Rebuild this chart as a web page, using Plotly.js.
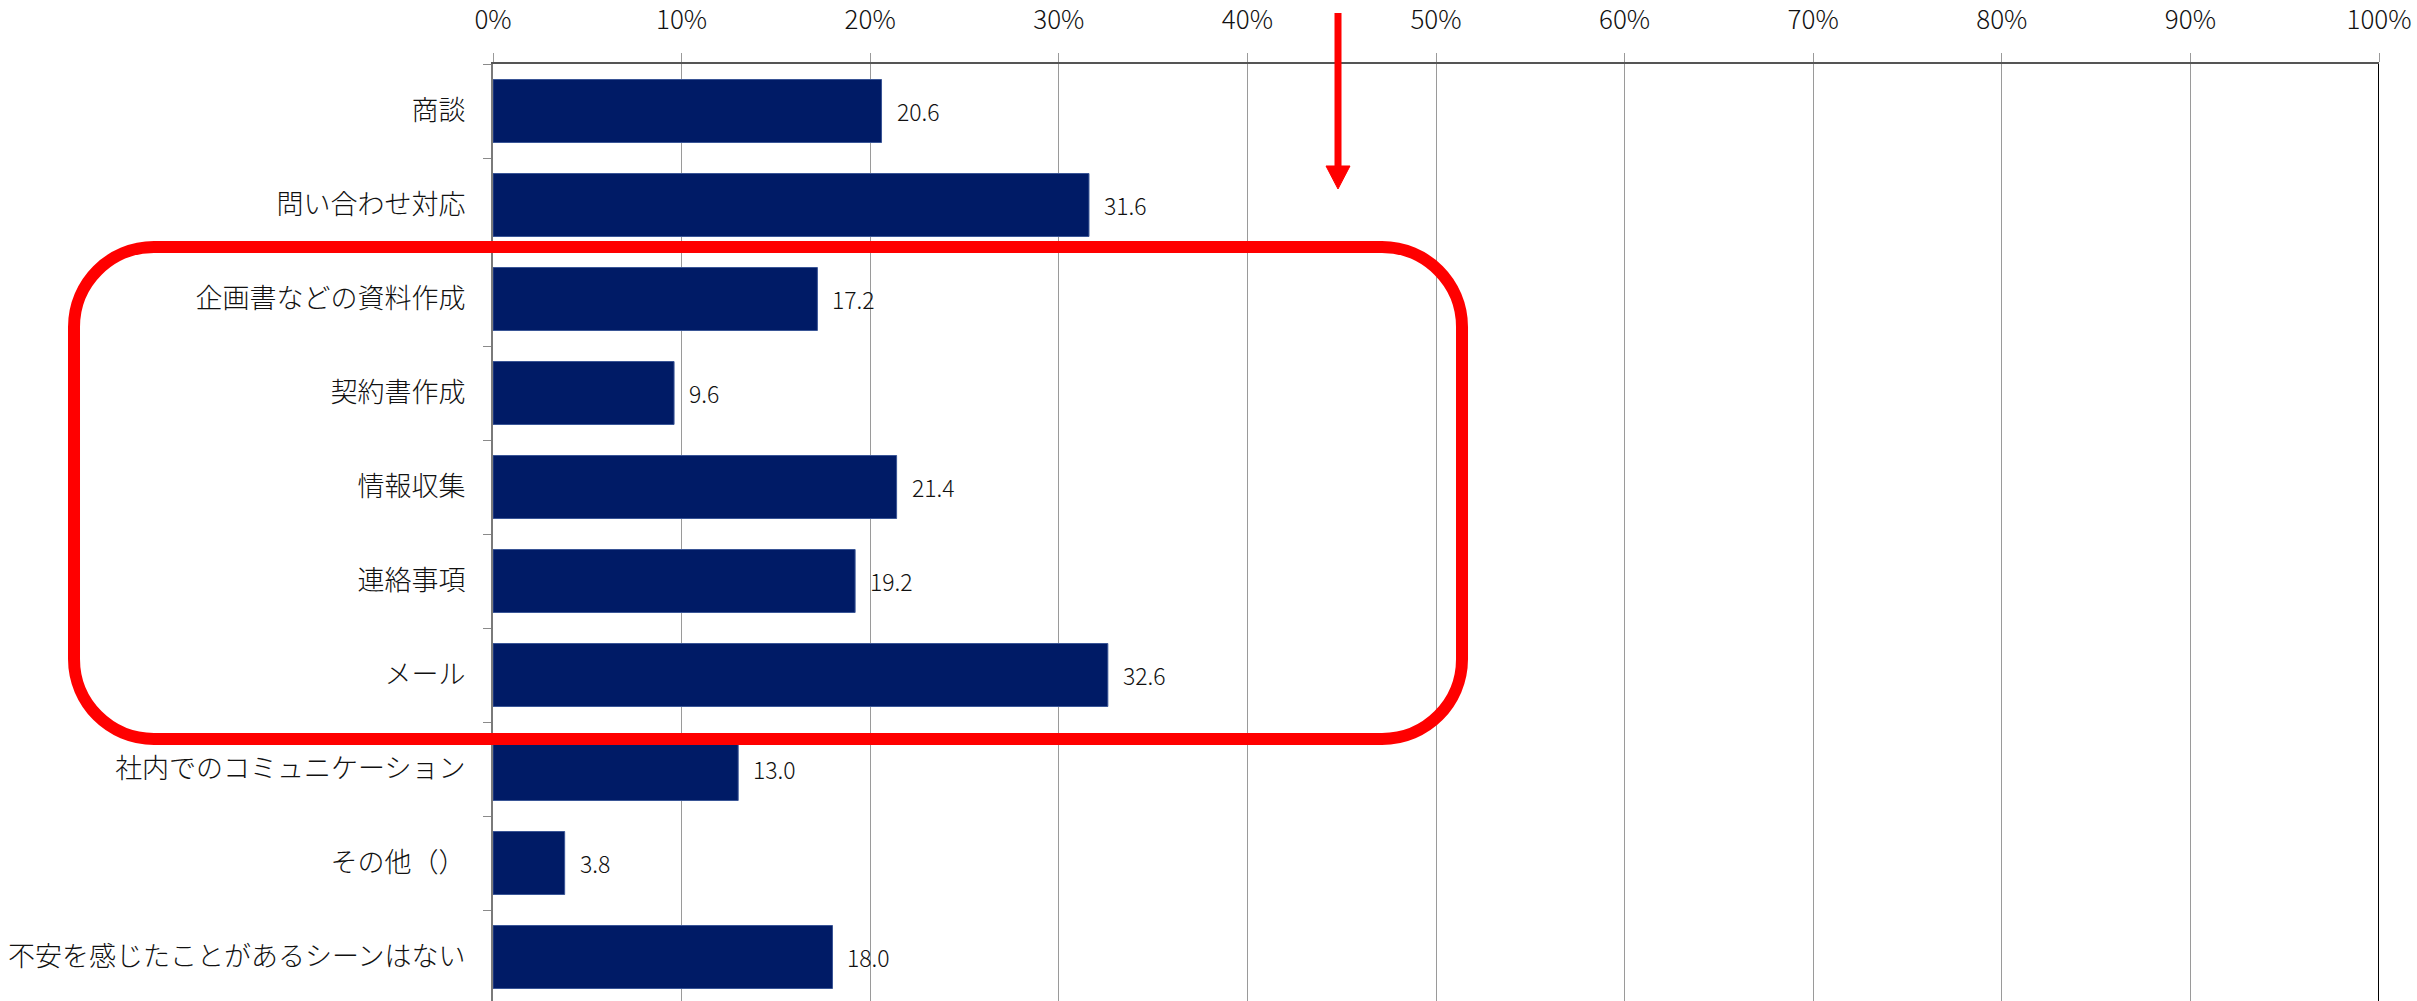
<!DOCTYPE html>
<html>
<head>
<meta charset="utf-8">
<script src="https://cdn.plot.ly/plotly-3.0.1.min.js"></script>
<style>
html,body{margin:0;padding:0;background:#fff;overflow:hidden;}
#chart{width:2417px;height:1004px;}
</style>
</head>
<body>
<div id="chart"></div>
<script>
const categories = ["商談","問い合わせ対応","企画書などの資料作成","契約書作成","情報収集","連絡事項","メール","社内でのコミュニケーション","その他（）","不安を感じたことがあるシーンはない"];
const values = [20.6, 31.6, 17.2, 9.6, 21.4, 19.2, 32.6, 13.0, 3.8, 18.0];
const tickVals = [0,10,20,30,40,50,60,70,80,90,100];
const tickText = ["0%","10%","20%","30%","40%","50%","60%","70%","80%","90%","100%"];

const FONT = "'Noto Sans CJK JP', 'Noto Sans', sans-serif";
const FIG_W = 2417, FIG_H = 1004;
const M = {l:493, r:38, t:64, b:0};
const PW = FIG_W - M.l - M.r, PH = FIG_H - M.t - M.b;

// pixel -> paper conversion for decorative shapes
function P(px, py){ return ((px - M.l)/PW).toFixed(5) + "," + (1 - (py - M.t)/PH).toFixed(5); }

function roundedRectPath(left, top, right, bottom, r){
  const k = r*0.5523;
  return "M" + P(left+r, top) +
    " L" + P(right-r, top) +
    " C" + P(right-r+k, top) + " " + P(right, top+r-k) + " " + P(right, top+r) +
    " L" + P(right, bottom-r) +
    " C" + P(right, bottom-r+k) + " " + P(right-r+k, bottom) + " " + P(right-r, bottom) +
    " L" + P(left+r, bottom) +
    " C" + P(left+r-k, bottom) + " " + P(left, bottom-r+k) + " " + P(left, bottom-r) +
    " L" + P(left, top+r) +
    " C" + P(left, top+r-k) + " " + P(left+r-k, top) + " " + P(left+r, top) + " Z";
}

const trace = {
  type: 'bar',
  orientation: 'h',
  x: values,
  y: categories,
  marker: {color: '#001B66', line: {color: '#3A5596', width: 1}},
  hoverinfo: 'none'
};

const labelAnnotations = values.map((v, i) => ({
  x: v, y: categories[i], xref: 'x', yref: 'y',
  text: v.toFixed(1), showarrow: false,
  xanchor: 'left', yanchor: 'middle', xshift: 13,
  font: {family: FONT, size: 23, color: '#111', weight: 300}
}));

const shapes = [
  // right border of plot
  {type:'line', xref:'x', yref:'paper', x0:100, x1:100, y0:0, y1:1, line:{color:'#000', width:2}, layer:'above'},
  // red rounded highlight box
  {type:'path', xref:'paper', yref:'paper', path: roundedRectPath(74, 247, 1462, 739, 80),
   line:{color:'#FF0000', width:12}, fillcolor:'rgba(0,0,0,0)', layer:'above'},
  // red arrow shaft
  {type:'path', xref:'paper', yref:'paper', path: "M" + P(1338, 13) + " L" + P(1338, 168),
   line:{color:'#FF0000', width:7}, layer:'above'},
  // red arrow head
  {type:'path', xref:'paper', yref:'paper', path: "M" + P(1326, 166) + " L" + P(1350, 166) + " L" + P(1338, 189) + " Z",
   line:{color:'#FF0000', width:1}, fillcolor:'#FF0000', layer:'above'}
];

const layout = {
  width: FIG_W, height: FIG_H,
  margin: M,
  paper_bgcolor: '#fff', plot_bgcolor: '#fff',
  showlegend: false,
  bargap: 0.33,
  font: {family: FONT, color: '#111'},
  xaxis: {
    side: 'top', range: [0, 100], tickvals: tickVals, ticktext: tickText,
    showgrid: true, gridcolor: '#9a9a9a', gridwidth: 1,
    showline: true, linecolor: '#555', linewidth: 2,
    ticks: 'outside', ticklen: 9, tickcolor: '#9a9a9a', tickwidth: 1,
    ticklabelstandoff: 14,
    tickfont: {family: FONT, size: 26, color: '#111', weight: 300},
    zeroline: false, fixedrange: true
  },
  yaxis: {
    type: 'category', autorange: 'reversed',
    showline: true, linecolor: '#7a7a7a', linewidth: 2,
    ticks: 'outside', tickson: 'boundaries', ticklen: 8, tickcolor: '#8a8a8a', tickwidth: 1,
    ticklabelstandoff: 20,
    tickfont: {family: FONT, size: 27, color: '#111', weight: 300},
    showgrid: false, zeroline: false, fixedrange: true
  },
  annotations: labelAnnotations,
  shapes: shapes
};

Plotly.newPlot('chart', [trace], layout, {staticPlot: true, displayModeBar: false});
</script>
</body>
</html>
